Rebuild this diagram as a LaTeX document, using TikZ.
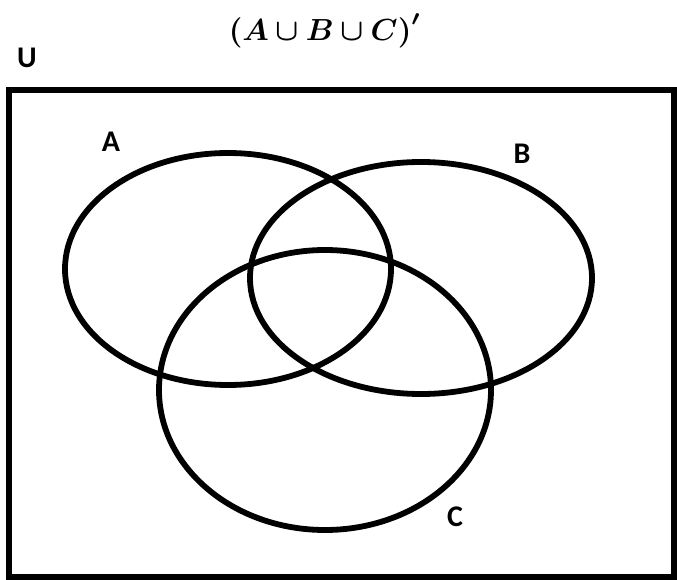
\documentclass[tikz,border=0pt]{standalone}
\usepackage{amsmath}
\usepackage{bm}
\usepackage{fontspec}
\newfontfamily\calfont{Carlito}
\usetikzlibrary{positioning}

\begin{document}
\begin{tikzpicture}[
    x=1pt, y=-1pt, % one unit per pixel, y runs downwards
    venn/.style={line width=5.8pt},
    setlabel/.style={font=\calfont\bfseries\fontsize{30}{32}\selectfont, inner sep=0pt}
]
    \useasboundingbox (0,0) rectangle (677,580);

    % the universe
    \draw[line width=6pt] (8.5,90) rectangle (673.5,577);

    % the three sets
    \coordinate (ca) at (228,269);
    \coordinate (cb) at (421,278);
    \coordinate (cc) at (325,390);
    \draw[venn] (ca) ellipse [x radius=163, y radius=116];
    \draw[venn] (cb) ellipse [x radius=171, y radius=116];
    \draw[venn] (cc) ellipse [x radius=166, y radius=140];

    % labels
    \node[scale=3.05, transform shape, inner sep=0pt] (title) at (325,31) {$\bm{(A\cup B\cup C)'}$};
    \node[setlabel] (u) at (27,58) {U};
    \node[setlabel] (a) at (111,142) {A};
    \node[setlabel] (b) at (522,154) {B};
    \node[setlabel] (c) at (455,517) {C};
\end{tikzpicture}
\end{document}
